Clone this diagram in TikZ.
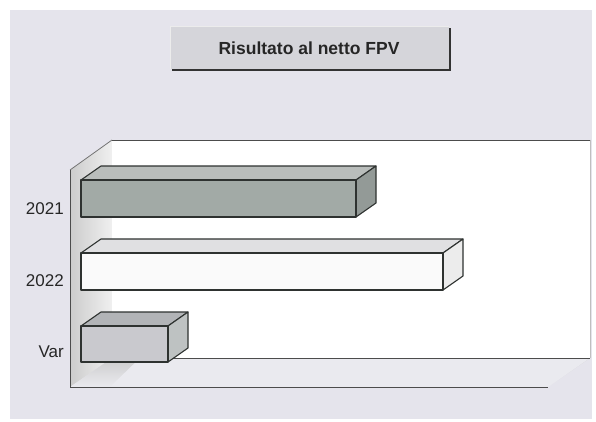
\documentclass[tikz,border=0pt]{standalone}
\usepackage{fontspec}
\setmainfont{Liberation Sans}
\definecolor{bgc}{HTML}{E5E4EC}
\definecolor{titlefill}{HTML}{D5D5DA}
\definecolor{edge}{HTML}{2E3230}
\definecolor{aFront}{HTML}{A2AAA6}
\definecolor{aTop}{HTML}{B9BDBB}
\definecolor{aSide}{HTML}{939A97}
\definecolor{bFront}{HTML}{FAFAFA}
\definecolor{bTop}{HTML}{E0E0E2}
\definecolor{bSide}{HTML}{ECECEC}
\definecolor{cFront}{HTML}{C9C9CE}
\definecolor{cTop}{HTML}{B2B4B7}
\definecolor{cSide}{HTML}{BEC2C2}
\definecolor{floorc}{HTML}{EAEAEF}
\begin{document}
\begin{tikzpicture}[x=1pt,y=-1pt,
  face/.style={draw=edge,line width=1.1pt,line join=round},
  lab/.style={font=\fontsize{17}{20}\selectfont,text=black!85,anchor=east,inner sep=0pt},
  axisline/.style={draw=black!70,line width=0.9pt}]
\useasboundingbox (0,0) rectangle (596,422);
\fill[white] (0,0) rectangle (596,422);
\fill[bgc] (10,10) rectangle (592,419);
% title box
\fill[titlefill] (170,26) rectangle (449,69);
\draw[white!85!gray,line width=0.8pt] (170,69) -- (170,26) -- (449,26);
\draw[black!80,line width=2pt] (172,70) -- (450,70) -- (450,28);
\node[font=\bfseries\fontsize{17.5}{20}\selectfont,text=black!85] (title) at (309,48) {Risultato al netto FPV};
% walls
\shade[left color=black!20,right color=black!6] (70,170) -- (112,140) -- (112,358) -- (70,387) -- cycle;
\shade[left color=black!20,right color=floorc,shading angle=0] (70,387) -- (112,358) -- (590,358) -- (548,387) -- cycle;
\fill[floorc] (140,358) -- (590,358) -- (548,387) -- (110,387) -- cycle;
\fill[white] (112,140) rectangle (590,358);
\draw[axisline] (112,140) -- (590,140);
\draw[black!25,line width=1pt] (590,140) -- (590,358);
\draw[axisline] (112,358) -- (590,358);
\draw[black!55,line width=0.8pt] (70,170) -- (112,140);
\draw[axisline] (70,170) -- (70,387) -- (548,387);
% bar 2021
\fill[aTop,face] (81,180) -- (101,166) -- (376,166) -- (356,180) -- cycle;
\fill[aSide,face] (356,180) -- (376,166) -- (376,203) -- (356,217) -- cycle;
\fill[aFront,face] (81,180) rectangle (356,217);
% bar 2022
\fill[bTop,face] (81,253) -- (101,239) -- (463,239) -- (443,253) -- cycle;
\fill[bSide,face] (443,253) -- (463,239) -- (463,276) -- (443,290) -- cycle;
\fill[bFront,face] (81,253) rectangle (443,290);
% bar Var
\fill[cTop,face] (81,326) -- (101,312) -- (188,312) -- (168,326) -- cycle;
\fill[cSide,face] (168,326) -- (188,312) -- (188,348) -- (168,362) -- cycle;
\fill[cFront,face] (81,326) rectangle (168,362);
% labels
\node[lab] (l2021) at (64,209) {2021};
\node[lab] (l2022) at (64,281) {2022};
\node[lab] (lvar) at (64,352) {Var};
\end{tikzpicture}
\end{document}
